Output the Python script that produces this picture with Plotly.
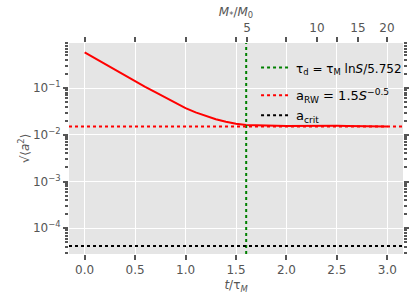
import numpy as np
import plotly.graph_objects as go

# data
t_vals = [0.0, 0.1, 0.2, 0.3, 0.4, 0.5, 0.6, 0.7, 0.8, 0.9, 1.0,
          1.1, 1.2, 1.3, 1.4, 1.5, 1.6, 1.7, 1.8, 1.9, 2.0,
          2.1, 2.2, 2.3, 2.4, 2.5, 2.6, 2.7, 2.8, 2.9, 3.0]
a_rms = [0.578, 0.4345, 0.326, 0.245, 0.184, 0.138, 0.1064, 0.0818, 0.0631, 0.0485, 0.0373,
         0.0301, 0.0251, 0.0216, 0.0191, 0.0172, 0.0162, 0.0158, 0.01567, 0.01556, 0.0155,
         0.0156, 0.0155, 0.0156, 0.0155, 0.0156, 0.0155, 0.0154, 0.0154, 0.0153, 0.0151]
tau_d = 1.601
a_RW = 0.015
a_crit = 4.2e-5

x_range = [-0.155, 3.155]
y_range_log = [-4.55, -0.036]

bottom_ticks = [0.0, 0.5, 1.0, 1.5, 2.0, 2.5, 3.0]
top_mass_labels = [5, 10, 15, 20]
y_major = [1e-4, 1e-3, 1e-2, 1e-1]
y_major_text = ["10<sup>−4</sup>", "10<sup>−3</sup>", "10<sup>−2</sup>", "10<sup>−1</sup>"]
y_minor = [k * 10.0**n for n in range(-5, 0) for k in range(2, 10)]

TICK = "#555555"
FONT = "DejaVu Sans"
BG = "#E5E5E5"

fig = go.Figure()
fig.add_trace(go.Scatter(x=t_vals, y=a_rms, mode="lines",
                         line=dict(color="red", width=2), showlegend=False))
fig.add_trace(go.Scatter(x=[tau_d, tau_d], y=[10**y_range_log[0], 10**y_range_log[1]],
                         mode="lines", line=dict(color="green", width=2, dash="dot"),
                         legendgroup="a",
                         name="<span style='font-size:12px'>τ<sub>d</sub> = τ<sub>M</sub> ln<i>S</i>/5.752</span>"))
fig.add_trace(go.Scatter(x=x_range, y=[a_RW, a_RW], mode="lines",
                         line=dict(color="red", width=2, dash="dot"),
                         legendgroup="b",
                         name="a<sub>RW</sub> = 1.5<i>S</i><sup>−0.5</sup>"))
fig.add_trace(go.Scatter(x=x_range, y=[a_crit, a_crit], mode="lines",
                         line=dict(color="black", width=2, dash="dot"),
                         legendgroup="b",
                         name="a<sub>crit</sub>"))
# invisible traces so the extra tick axes are drawn
for xa, ya in [("x2", "y"), ("x", "y2"), ("x", "y3"), ("x", "y4")]:
    fig.add_trace(go.Scatter(x=x_range, y=[a_RW, a_RW], xaxis=xa, yaxis=ya, mode="lines",
                             line=dict(width=0), opacity=0, showlegend=False,
                             hoverinfo="skip"))

top_vals = [float(np.log(m)) for m in top_mass_labels]
top_text = [str(m) for m in top_mass_labels]

ytick_common = dict(type="log", range=y_range_log, tickcolor=TICK, tickwidth=1.5,
                    ticks="outside", showgrid=False, zeroline=False, automargin=False,
                    showline=False)

fig.update_layout(
    width=416, height=301,
    margin=dict(l=69, r=13, t=43, b=47, autoexpand=False),
    paper_bgcolor="white", plot_bgcolor=BG,
    font=dict(family=FONT, size=12, color=TICK),
    xaxis=dict(range=x_range, tickvals=bottom_ticks,
               ticktext=[f"{v:.1f}" for v in bottom_ticks],
               ticks="outside", ticklen=5, tickwidth=1.5, tickcolor=TICK,
               showgrid=True, gridcolor="white", gridwidth=1, zeroline=False,
               showline=False, automargin=False,
               title=dict(text="<i>t</i>/τ<sub><i>M</i></sub>", standoff=4,
                          font=dict(size=12, color=TICK))),
    xaxis2=dict(range=x_range, overlaying="x", side="top", tickvals=top_vals,
                ticktext=top_text, ticks="outside", ticklen=5, tickwidth=1.5,
                tickcolor=TICK, showgrid=False, zeroline=False, automargin=False,
                minor=dict(tickvals=bottom_ticks, ticks="outside", ticklen=5,
                           tickwidth=1.5, tickcolor=TICK, showgrid=False),
                title=dict(text="<i>M</i><sub>*</sub>/<i>M</i><sub>0</sub>", standoff=2,
                           font=dict(size=12, color=TICK))),
    yaxis=dict(type="log", range=y_range_log, tickvals=y_major, ticktext=y_major_text,
               ticks="outside", ticklen=5, tickwidth=1.5, tickcolor=TICK,
               showline=False, automargin=False,
               showgrid=True, gridcolor="white", gridwidth=1, zeroline=False,
               title=dict(text="√⟨<i>a</i><sup>2</sup>⟩", standoff=0,
                          font=dict(size=12, color=TICK))),
    yaxis2=dict(overlaying="y", side="left", tickvals=y_minor, ticklen=3,
                showticklabels=False, **ytick_common),
    yaxis3=dict(overlaying="y", side="right", tickvals=y_major, ticklen=5,
                showticklabels=False, **ytick_common),
    yaxis4=dict(overlaying="y", side="right", tickvals=y_minor, ticklen=3,
                showticklabels=False, **ytick_common),
    legend=dict(x=0.56, y=0.955, xanchor="left", yanchor="top",
                bgcolor="rgba(0,0,0,0)", borderwidth=0, itemwidth=30,
                traceorder="grouped", tracegroupgap=8,
                font=dict(family=FONT, size=13, color="black")),
)

fig.write_html("out.html", config={"displayModeBar": False},
               post_script="document.body.style.margin='0';document.body.style.padding='0';")
